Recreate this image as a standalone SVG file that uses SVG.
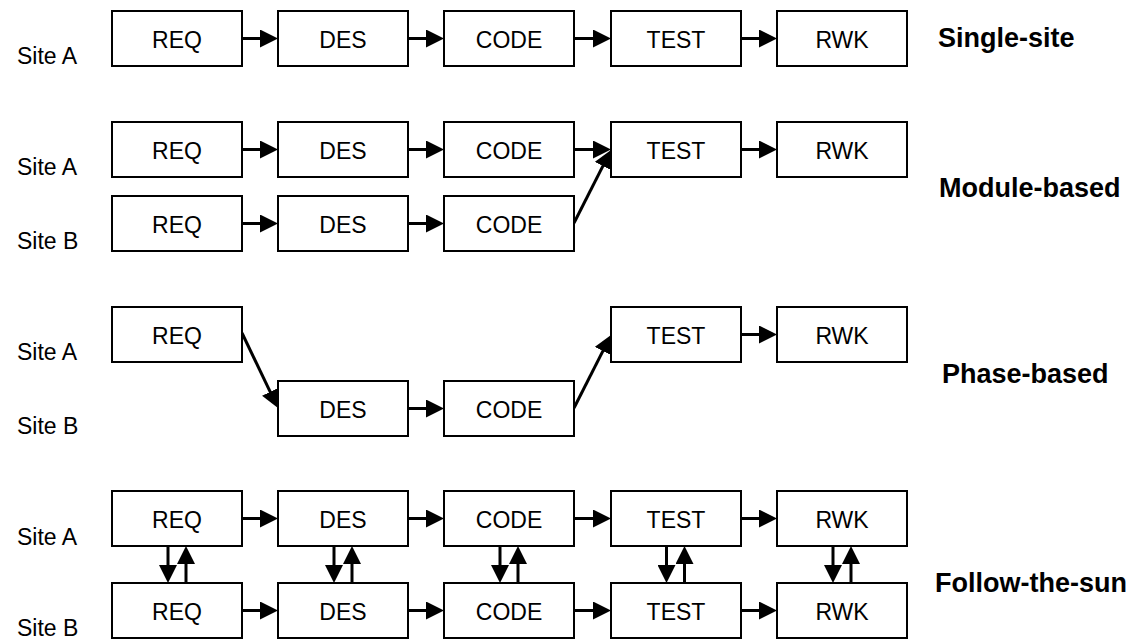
<svg xmlns="http://www.w3.org/2000/svg" width="1140" height="639" viewBox="0 0 1140 639">
<style>
.box{fill:#fff;stroke:#000;stroke-width:2}
.bt{font-family:"Liberation Sans",Arial,sans-serif;font-size:23px;text-anchor:middle;fill:#000}
.site{font-family:"Liberation Sans",Arial,sans-serif;font-size:23px;fill:#000}
.title{font-family:"Liberation Sans",Arial,sans-serif;font-size:27px;font-weight:bold;fill:#000}
.c{stroke:#000;stroke-width:3;fill:none;marker-end:url(#ah)}
</style>
<defs>
<marker id="ah" markerUnits="userSpaceOnUse" markerWidth="18" markerHeight="18" refX="10" refY="9" orient="auto" viewBox="0 0 18 18">
<path d="M0,0 L18,9 L0,18 z" fill="#000"/>
</marker>
</defs>
<rect width="1140" height="639" fill="#fff"/>
<g id="labels">
<text class="site" x="17" y="64">Site A</text>
<text class="site" x="17" y="175">Site A</text>
<text class="site" x="17" y="249">Site B</text>
<text class="site" x="17" y="360">Site A</text>
<text class="site" x="17" y="434">Site B</text>
<text class="site" x="17" y="545">Site A</text>
<text class="site" x="17" y="636">Site B</text>
<text class="title" x="938" y="47">Single-site</text>
<text class="title" x="939" y="197">Module-based</text>
<text class="title" x="942" y="383">Phase-based</text>
<text class="title" x="935" y="592">Follow-the-sun</text>
</g>
<g id="connectors">
<line class="c" x1="242" y1="38.5" x2="270" y2="38.5"/>
<line class="c" x1="408" y1="38.5" x2="436" y2="38.5"/>
<line class="c" x1="574" y1="38.5" x2="603" y2="38.5"/>
<line class="c" x1="741" y1="38.5" x2="769" y2="38.5"/>
<line class="c" x1="242" y1="149.5" x2="270" y2="149.5"/>
<line class="c" x1="408" y1="149.5" x2="436" y2="149.5"/>
<line class="c" x1="574" y1="149.5" x2="603" y2="149.5"/>
<line class="c" x1="741" y1="149.5" x2="769" y2="149.5"/>
<line class="c" x1="242" y1="223.5" x2="270" y2="223.5"/>
<line class="c" x1="408" y1="223.5" x2="436" y2="223.5"/>
<line class="c" x1="574" y1="223" x2="607.4" y2="157.1"/>
<line class="c" x1="242" y1="333" x2="274.5" y2="400.8"/>
<line class="c" x1="408" y1="408.5" x2="436" y2="408.5"/>
<line class="c" x1="574" y1="408" x2="607.4" y2="342.1"/>
<line class="c" x1="741" y1="334.5" x2="769" y2="334.5"/>
<line class="c" x1="242" y1="518.5" x2="270" y2="518.5"/>
<line class="c" x1="408" y1="518.5" x2="436" y2="518.5"/>
<line class="c" x1="574" y1="518.5" x2="603" y2="518.5"/>
<line class="c" x1="741" y1="518.5" x2="769" y2="518.5"/>
<line class="c" x1="242" y1="610.5" x2="270" y2="610.5"/>
<line class="c" x1="408" y1="610.5" x2="436" y2="610.5"/>
<line class="c" x1="574" y1="610.5" x2="603" y2="610.5"/>
<line class="c" x1="741" y1="610.5" x2="769" y2="610.5"/>
<line class="c" x1="168" y1="546" x2="168" y2="575"/>
<line class="c" x1="186" y1="583" x2="186" y2="554"/>
<line class="c" x1="334" y1="546" x2="334" y2="575"/>
<line class="c" x1="352" y1="583" x2="352" y2="554"/>
<line class="c" x1="500" y1="546" x2="500" y2="575"/>
<line class="c" x1="518" y1="583" x2="518" y2="554"/>
<line class="c" x1="666.5" y1="546" x2="666.5" y2="575"/>
<line class="c" x1="684.5" y1="583" x2="684.5" y2="554"/>
<line class="c" x1="833" y1="546" x2="833" y2="575"/>
<line class="c" x1="851" y1="583" x2="851" y2="554"/>
</g>
<g id="row1">
<g id="s-req"><rect class="box" x="112" y="11" width="130" height="55"/><text class="bt" x="177" y="48">REQ</text></g>
<g id="s-des"><rect class="box" x="278" y="11" width="130" height="55"/><text class="bt" x="343" y="48">DES</text></g>
<g id="s-code"><rect class="box" x="444" y="11" width="130" height="55"/><text class="bt" x="509" y="48">CODE</text></g>
<g id="s-test"><rect class="box" x="611" y="11" width="130" height="55"/><text class="bt" x="676" y="48">TEST</text></g>
<g id="s-rwk"><rect class="box" x="777" y="11" width="130" height="55"/><text class="bt" x="842" y="48">RWK</text></g>
</g>
<g id="row2">
<g id="m-reqA"><rect class="box" x="112" y="122" width="130" height="55"/><text class="bt" x="177" y="159">REQ</text></g>
<g id="m-desA"><rect class="box" x="278" y="122" width="130" height="55"/><text class="bt" x="343" y="159">DES</text></g>
<g id="m-codeA"><rect class="box" x="444" y="122" width="130" height="55"/><text class="bt" x="509" y="159">CODE</text></g>
<g id="m-test"><rect class="box" x="611" y="122" width="130" height="55"/><text class="bt" x="676" y="159">TEST</text></g>
<g id="m-rwk"><rect class="box" x="777" y="122" width="130" height="55"/><text class="bt" x="842" y="159">RWK</text></g>
<g id="m-reqB"><rect class="box" x="112" y="196" width="130" height="55"/><text class="bt" x="177" y="233">REQ</text></g>
<g id="m-desB"><rect class="box" x="278" y="196" width="130" height="55"/><text class="bt" x="343" y="233">DES</text></g>
<g id="m-codeB"><rect class="box" x="444" y="196" width="130" height="55"/><text class="bt" x="509" y="233">CODE</text></g>
</g>
<g id="row3">
<g id="p-req"><rect class="box" x="112" y="307" width="130" height="55"/><text class="bt" x="177" y="344">REQ</text></g>
<g id="p-des"><rect class="box" x="278" y="381" width="130" height="55"/><text class="bt" x="343" y="418">DES</text></g>
<g id="p-code"><rect class="box" x="444" y="381" width="130" height="55"/><text class="bt" x="509" y="418">CODE</text></g>
<g id="p-test"><rect class="box" x="611" y="307" width="130" height="55"/><text class="bt" x="676" y="344">TEST</text></g>
<g id="p-rwk"><rect class="box" x="777" y="307" width="130" height="55"/><text class="bt" x="842" y="344">RWK</text></g>
</g>
<g id="row4">
<g id="f-reqA"><rect class="box" x="112" y="491" width="130" height="55"/><text class="bt" x="177" y="528">REQ</text></g>
<g id="f-desA"><rect class="box" x="278" y="491" width="130" height="55"/><text class="bt" x="343" y="528">DES</text></g>
<g id="f-codeA"><rect class="box" x="444" y="491" width="130" height="55"/><text class="bt" x="509" y="528">CODE</text></g>
<g id="f-testA"><rect class="box" x="611" y="491" width="130" height="55"/><text class="bt" x="676" y="528">TEST</text></g>
<g id="f-rwkA"><rect class="box" x="777" y="491" width="130" height="55"/><text class="bt" x="842" y="528">RWK</text></g>
<g id="f-reqB"><rect class="box" x="112" y="583" width="130" height="55"/><text class="bt" x="177" y="620">REQ</text></g>
<g id="f-desB"><rect class="box" x="278" y="583" width="130" height="55"/><text class="bt" x="343" y="620">DES</text></g>
<g id="f-codeB"><rect class="box" x="444" y="583" width="130" height="55"/><text class="bt" x="509" y="620">CODE</text></g>
<g id="f-testB"><rect class="box" x="611" y="583" width="130" height="55"/><text class="bt" x="676" y="620">TEST</text></g>
<g id="f-rwkB"><rect class="box" x="777" y="583" width="130" height="55"/><text class="bt" x="842" y="620">RWK</text></g>
</g>
</svg>
